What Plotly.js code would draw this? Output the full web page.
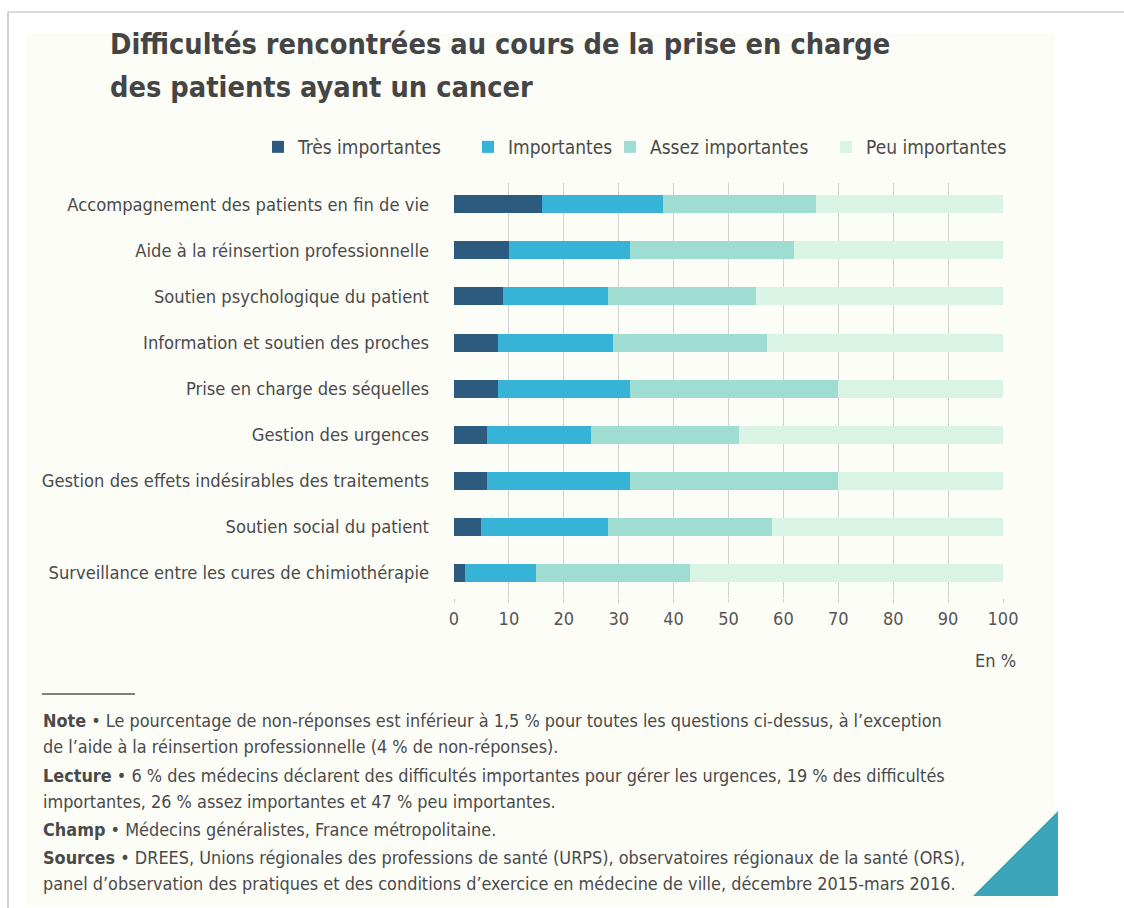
<!DOCTYPE html>
<html>
<head>
<meta charset="utf-8">
<script src="https://cdn.plot.ly/plotly-3.0.1.min.js"></script>
<style>
  html, body { margin: 0; padding: 0; background: #ffffff; }
  #chart { width: 1124px; height: 908px; }
</style>
</head>
<body>
<div id="chart"></div>
<script>
// ---- Data ----
const categories = [
  "Accompagnement des patients en fin de vie",
  "Aide à la réinsertion professionnelle",
  "Soutien psychologique du patient",
  "Information et soutien des proches",
  "Prise en charge des séquelles",
  "Gestion des urgences",
  "Gestion des effets indésirables des traitements",
  "Soutien social du patient",
  "Surveillance entre les cures de chimiothérapie"
];
const seriesNames = ["Très importantes", "Importantes", "Assez importantes", "Peu importantes"];
const tresImportantes   = [16, 10, 9, 8, 8, 6, 6, 5, 2];
const importantes       = [22, 22, 19, 21, 24, 19, 26, 23, 13];
const assezImportantes  = [28, 30, 27, 28, 38, 27, 38, 30, 28];
const peuImportantes    = [34, 38, 45, 43, 30, 48, 30, 42, 57];
const xTickValues = [0, 10, 20, 30, 40, 50, 60, 70, 80, 90, 100];

const titleLines = [
  "Difficultés rencontrées au cours de la prise en charge",
  "des patients ayant un cancer"
];
const noteLines = [
  ["Note", " Le pourcentage de non-réponses est inférieur à 1,5 % pour toutes les questions ci-dessus, à l’exception"],
  ["", "de l’aide à la réinsertion professionnelle (4 % de non-réponses)."],
  ["Lecture", " 6 % des médecins déclarent des difficultés importantes pour gérer les urgences, 19 % des difficultés"],
  ["", "importantes, 26 % assez importantes et 47 % peu importantes."],
  ["Champ", " Médecins généralistes, France métropolitaine."],
  ["Sources", " DREES, Unions régionales des professions de santé (URPS), observatoires régionaux de la santé (ORS),"],
  ["", "panel d’observation des pratiques et des conditions d’exercice en médecine de ville, décembre 2015-mars 2016."]
];

// ---- Layout geometry ----
const W = 1124, H = 908;
const ML = 454, MR = 121, MT = 183, MB = 310;
const PW = W - ML - MR, PH = H - MT - MB;
const px = x => (x - ML) / PW;
const py = y => (H - MB - y) / PH;

const FONT = '"DejaVu Sans Condensed", "Liberation Sans Narrow", "Arial Narrow", sans-serif';
const TEXT = '#4a4a4a';
const colors = ["#2d5b7f", "#37b3d7", "#9fdcd2", "#d9f3e4"];
const values = [tresImportantes, importantes, assezImportantes, peuImportantes];
const legendNames = ["legend", "legend2", "legend3", "legend4"];
const legendTextStart = [298, 508, 650, 866];

const traces = values.map((v, i) => ({
  type: 'bar',
  orientation: 'h',
  name: seriesNames[i],
  x: v,
  y: categories,
  marker: { color: colors[i], line: { width: 0 } },
  legend: legendNames[i],
  hoverinfo: 'x+name'
}));

const annotations = [];
titleLines.forEach((t, i) => {
  annotations.push({
    xref: 'paper', yref: 'paper', x: px(108), y: py(i === 0 ? 44 : 87),
    xanchor: 'left', yanchor: 'middle', showarrow: false,
    text: '<b>' + t + '</b>',
    font: { family: FONT, size: 28.7, color: '#454545' }
  });
});
annotations.push({
  xref: 'paper', yref: 'paper', x: px(1018), y: py(660),
  xanchor: 'right', yanchor: 'middle', showarrow: false,
  text: 'En %', font: { family: FONT, size: 18, color: TEXT }
});
const noteY = [720, 746, 775, 801, 829, 857, 883];
noteLines.forEach((ln, i) => {
  const txt = ln[0] ? '<b>' + ln[0] + '</b> •' + ln[1] : ln[1];
  annotations.push({
    xref: 'paper', yref: 'paper', x: px(41), y: py(noteY[i]),
    xanchor: 'left', yanchor: 'middle', showarrow: false,
    text: txt, font: { family: FONT, size: 17.9, color: TEXT }
  });
});

const shapes = [
  // cream card
  { type: 'rect', xref: 'paper', yref: 'paper', layer: 'below',
    x0: px(25), x1: px(1055), y0: py(33), y1: py(905),
    fillcolor: '#fdfdf8', line: { width: 0 } },
  // card top border
  { type: 'line', xref: 'paper', yref: 'paper', layer: 'below',
    x0: px(8), x1: px(1124), y0: py(12), y1: py(12),
    line: { color: '#dcdcdc', width: 2 } },
  // card left border
  { type: 'line', xref: 'paper', yref: 'paper', layer: 'below',
    x0: px(8), x1: px(8), y0: py(12), y1: py(908),
    line: { color: '#d0d0d0', width: 2 } },
  // note rule
  { type: 'line', xref: 'paper', yref: 'paper',
    x0: px(42), x1: px(135), y0: py(694), y1: py(694),
    line: { color: '#555555', width: 1.5 } },
  // teal corner triangle
  { type: 'path', xref: 'paper', yref: 'paper',
    path: 'M ' + px(973) + ' ' + py(896) + ' L ' + px(1058) + ' ' + py(896) +
          ' L ' + px(1058) + ' ' + py(811) + ' Z',
    fillcolor: '#3aa5b9', line: { width: 0 } }
];

const legendBase = {
  orientation: 'h', xanchor: 'left', yanchor: 'middle',
  y: py(147), bgcolor: 'rgba(0,0,0,0)', borderwidth: 0,
  font: { family: FONT, size: 19, color: TEXT },
  itemclick: false, itemdoubleclick: false
};

const layout = {
  width: W, height: H,
  margin: { l: ML, r: MR, t: MT, b: MB, pad: 0 },
  paper_bgcolor: 'rgba(0,0,0,0)',
  plot_bgcolor: 'rgba(0,0,0,0)',
  barmode: 'stack',
  bargap: 0.61,
  showlegend: true,
  font: { family: FONT, size: 18, color: TEXT },
  xaxis: {
    range: [0, 100], tickvals: xTickValues, ticktext: xTickValues.map(String),
    showgrid: true, gridcolor: '#d2d2d2', gridwidth: 1,
    zeroline: false, showline: false,
    ticks: 'outside', ticklen: 4, tickcolor: '#d2d2d2',
    tickfont: { family: FONT, size: 18, color: '#555555' },
    fixedrange: true
  },
  yaxis: {
    type: 'category', categoryorder: 'array', categoryarray: categories,
    range: [8.54, -0.46],
    showgrid: false, zeroline: false, showline: false, ticks: '',
    ticklabelstandoff: 24,
    tickfont: { family: FONT, size: 18.2, color: TEXT },
    fixedrange: true
  },
  annotations: annotations,
  shapes: shapes
};
legendNames.forEach((ln, i) => {
  layout[ln] = Object.assign({}, legendBase, { x: px(legendTextStart[i] - 40) });
});

Plotly.newPlot('chart', traces, layout, { displayModeBar: false, staticPlot: true });
</script>
</body>
</html>
